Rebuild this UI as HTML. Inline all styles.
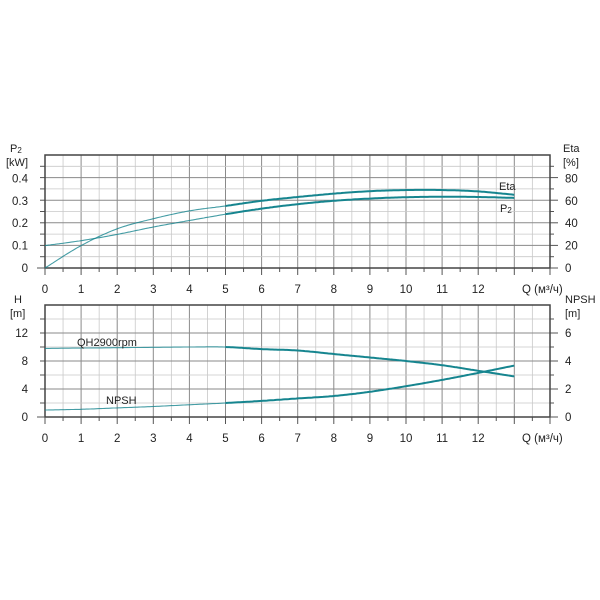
<!DOCTYPE html>
<html><head><meta charset="utf-8"><style>
html,body{margin:0;padding:0;background:#fff;width:600px;height:600px;overflow:hidden}
svg{display:block;font-family:"Liberation Sans",sans-serif}
</style></head><body>
<svg id="s" width="600" height="600" viewBox="0 0 600 600"></svg>
<script>
const s=document.getElementById('s');let h='';
const X0=45,U=36.1,XR=550;
function X(q){return X0+q*U}
function panel(top,bot,nh){
  // vertical grid
  for(let i=1;i<28;i++){const x=X0+i*U/2;if(x>=XR)break;
    const maj=i%2==0;h+=`<line x1="${x}" y1="${top}" x2="${x}" y2="${bot}" stroke="${maj?'#8a8a8a':'#c8c8c8'}" stroke-width="${maj?1:0.8}"/>`;
    h+=`<line x1="${x}" y1="${bot}" x2="${x}" y2="${bot+(maj?7:4)}" stroke="#555" stroke-width="1"/>`;}
  const dy=(bot-top)/nh;
  for(let j=1;j<nh;j++){const y=bot-j*dy;const maj=j%2==0;
    h+=`<line x1="${X0}" y1="${y}" x2="${XR}" y2="${y}" stroke="${maj?'#8a8a8a':'#c8c8c8'}" stroke-width="${maj?1:0.8}"/>`;
    h+=`<line x1="${X0-5}" y1="${y}" x2="${X0}" y2="${y}" stroke="#555"/><line x1="${XR}" y1="${y}" x2="${XR+(maj?8:4)}" y2="${y}" stroke="#555"/>`;}
  h+=`<rect x="${X0}" y="${top}" width="${XR-X0}" height="${bot-top}" fill="none" stroke="#444" stroke-width="1.5"/>`;
  h+=`<line x1="${X0-8}" y1="${bot}" x2="${X0}" y2="${bot}" stroke="#555"/><line x1="${XR}" y1="${bot}" x2="${XR+8}" y2="${bot}" stroke="#555"/>`;
  h+=`<line x1="${X0}" y1="${bot}" x2="${X0}" y2="${bot+7}" stroke="#555"/><line x1="${XR}" y1="${bot}" x2="${XR}" y2="${bot+7}" stroke="#555"/>`;
  for(let q=0;q<=12;q++)h+=`<text x="${X(q)}" y="${bot+25}" font-size="11.5" text-anchor="middle" fill="#222">${q}</text>`;
  h+=`<text x="522" y="${bot+25}" font-size="11.5" fill="#222">Q (м³/ч)</text>`;
}
function curve(pts,fy,col){ // pts [q,v]
  let thin='',thick='';
  // smooth interpolation via catmull-rom sampling
  const n=pts.length;let samples=[];
  for(let i=0;i<n-1;i++){const p0=pts[Math.max(0,i-1)],p1=pts[i],p2=pts[i+1],p3=pts[Math.min(n-1,i+2)];
    for(let t=0;t<1;t+=0.05){const t2=t*t,t3=t2*t;
      const f=(a,b,c,d)=>0.5*((2*b)+(-a+c)*t+(2*a-5*b+4*c-d)*t2+(-a+3*b-3*c+d)*t3);
      samples.push([f(p0[0],p1[0],p2[0],p3[0]),f(p0[1],p1[1],p2[1],p3[1])]);}}
  samples.push(pts[n-1]);
  const a=samples.filter(p=>p[0]<=5.01),b=samples.filter(p=>p[0]>=4.99);
  const d=arr=>arr.map((p,i)=>(i?'L':'M')+X(p[0]).toFixed(1)+','+fy(p[1]).toFixed(1)).join('');
  h+=`<path d="${d(a)}" fill="none" stroke="${col}" stroke-width="1.1" opacity="0.8"/>`;
  h+=`<path d="${d(b)}" fill="none" stroke="${col}" stroke-width="2"/>`;
}
// top panel
const T1=155,B1=268;panel(T1,B1,10);
const yP=v=>B1-v*224;
[["0.4",0.4],["0.3",0.3],["0.2",0.2],["0.1",0.1],["0",0]].forEach(([t,v])=>h+=`<text x="28" y="${yP(v)+4}" font-size="11.5" text-anchor="end" fill="#222">${t}</text>`);
[80,60,40,20,0].forEach(v=>h+=`<text x="565" y="${yP(v/200)+4}" font-size="11.5" fill="#222">${v}</text>`);
h+=`<text x="10" y="152" font-size="11" fill="#222">P<tspan font-size="8" dy="1">2</tspan></text><text x="6" y="166" font-size="11" fill="#222">[kW]</text>`;
h+=`<text x="563" y="152" font-size="11" fill="#222">Eta</text><text x="563" y="166" font-size="11" fill="#222">[%]</text>`;
curve([[0,0],[1,0.1],[2,0.175],[3,0.22],[4,0.255],[5,0.277],[6,0.3],[7,0.317],[8,0.332],[9,0.343],[10,0.348],[11,0.348],[12,0.342],[13,0.327]],yP,'#16858f');
curve([[0,0.1],[1,0.122],[2,0.15],[3,0.183],[4,0.212],[5,0.24],[6,0.265],[7,0.285],[8,0.3],[9,0.31],[10,0.316],[11,0.318],[12,0.317],[13,0.313]],yP,'#16858f');
h+=`<text x="499" y="190" font-size="11" fill="#222">Eta</text><text x="500" y="212" font-size="11" fill="#222">P<tspan font-size="8" dy="1">2</tspan></text>`;
// bottom panel
const T2=305,B2=417;panel(T2,B2,8);
const yH=v=>B2-v*7;
[12,8,4,0].forEach(v=>h+=`<text x="28" y="${yH(v)+4}" font-size="11.5" text-anchor="end" fill="#222">${v}</text>`);
[6,4,2,0].forEach(v=>h+=`<text x="565" y="${yH(v*2)+4}" font-size="11.5" fill="#222">${v}</text>`);
h+=`<text x="14" y="303" font-size="11" fill="#222">H</text><text x="10" y="317" font-size="11" fill="#222">[m]</text>`;
h+=`<text x="565" y="303" font-size="11" fill="#222">NPSH</text><text x="565" y="317" font-size="11" fill="#222">[m]</text>`;
curve([[0,9.8],[2,9.9],[4,10],[5,10],[6,9.7],[7,9.5],[8,9.0],[9,8.5],[10,8.0],[11,7.4],[12,6.6],[13,5.8]],yH,'#16858f');
curve([[0,1.0],[1,1.1],[2,1.3],[3,1.5],[4,1.75],[5,2.0],[6,2.3],[7,2.65],[8,3.0],[9,3.6],[10,4.4],[11,5.3],[12,6.3],[13,7.35]],yH,'#16858f');
h+=`<text x="77" y="346" font-size="11" fill="#222">QH2900rpm</text><text x="106" y="404" font-size="11" fill="#222">NPSH</text>`;
s.innerHTML=h;
</script>
</body></html>
